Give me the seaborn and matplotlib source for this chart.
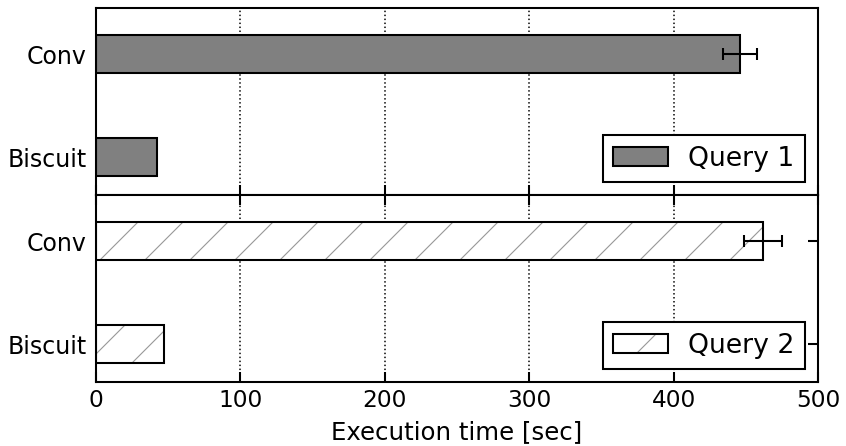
import numpy as np
import pandas as pd
import matplotlib
matplotlib.use('Agg')
import matplotlib.pyplot as plt
import seaborn as sns

# data
systems = ['Conv', 'Biscuit']
q1_time = [446, 42]
q1_err = [12, np.nan]
q2_time = [462, 47]
q2_err = [13, np.nan]
queries = ['Query 1', 'Query 2']

DPI = 270
sns.set_style('white')
plt.rcParams['font.family'] = ['DejaVu Sans']
plt.rcParams.update({
    'font.size': 6.3,
    'axes.linewidth': 0.55,
    'xtick.direction': 'in', 'ytick.direction': 'in',
    'xtick.major.size': 2.7, 'ytick.major.size': 2.7,
    'xtick.major.width': 0.55, 'ytick.major.width': 0.55,
    'xtick.major.pad': 2.0, 'ytick.major.pad': 2.5,
    'xtick.labelsize': 6.2, 'ytick.labelsize': 6.3,
    'axes.edgecolor': 'black',
    'xtick.color': 'black', 'ytick.color': 'black',
    'text.color': 'black', 'axes.labelcolor': 'black',
    'hatch.linewidth': 0.3,
    'legend.fontsize': 7.1,
})

fig, axes = plt.subplots(2, 1, sharex=True, figsize=(846 / DPI, 446 / DPI), dpi=DPI)
fig.subplots_adjust(left=0.1135, right=0.967, top=0.982, bottom=0.1435, hspace=0)

dfs = [pd.DataFrame({'system': systems, 'time': q1_time}),
       pd.DataFrame({'system': systems, 'time': q2_time})]
errs = [q1_err, q2_err]
colors = ['#808080', 'white']

for i, ax in enumerate(axes):
    df = dfs[i]
    sns.barplot(data=df, x='time', y='system', order=systems, orient='h',
                color=colors[i], saturation=1, width=0.37, errorbar=None,
                edgecolor='black', linewidth=0.55, label=queries[i], ax=ax)
    if i == 1:
        for p in ax.patches:
            p.set_hatch('//')
            if hasattr(p, 'set_hatchcolor'):
                p.set_hatchcolor('0.6')
            else:
                p._hatch_color = matplotlib.colors.to_rgba('0.6')
    ax.errorbar(df['time'], np.arange(len(systems)), xerr=errs[i], fmt='none',
                ecolor='black', elinewidth=0.55, capsize=1.6, capthick=0.55)
    ax.set_ylim(1.369, -0.447)
    ax.set_xlim(0, 500)
    ax.set_ylabel('')
    ax.set_xlabel('')
    ax.xaxis.grid(True, linestyle=':', color='black', linewidth=0.4)
    ax.yaxis.grid(False)
    ax.set_axisbelow(True)
    leg = ax.legend(loc='lower right', fancybox=False, framealpha=1,
                    edgecolor='black', borderaxespad=0.5, borderpad=0.38,
                    handlelength=2.05, handleheight=0.75, handletextpad=0.78)
    leg.get_frame().set_linewidth(0.55)
    for s in ax.spines.values():
        s.set_visible(True)

# tick marks as in the reference: top panel only bottom x ticks,
# lower panel x ticks on both edges and y ticks on the right
axes[0].tick_params(axis='x', bottom=True, top=False, labelbottom=False)
axes[0].tick_params(axis='y', left=False, right=False)
axes[1].tick_params(axis='x', bottom=True, top=True)
axes[1].tick_params(axis='y', left=False, right=True, labelleft=True)

axes[1].set_xticks([0, 100, 200, 300, 400, 500])
axes[1].set_xlabel('Execution time [sec]', fontsize=6.5, labelpad=2)

fig.savefig('out.png', dpi=DPI)
